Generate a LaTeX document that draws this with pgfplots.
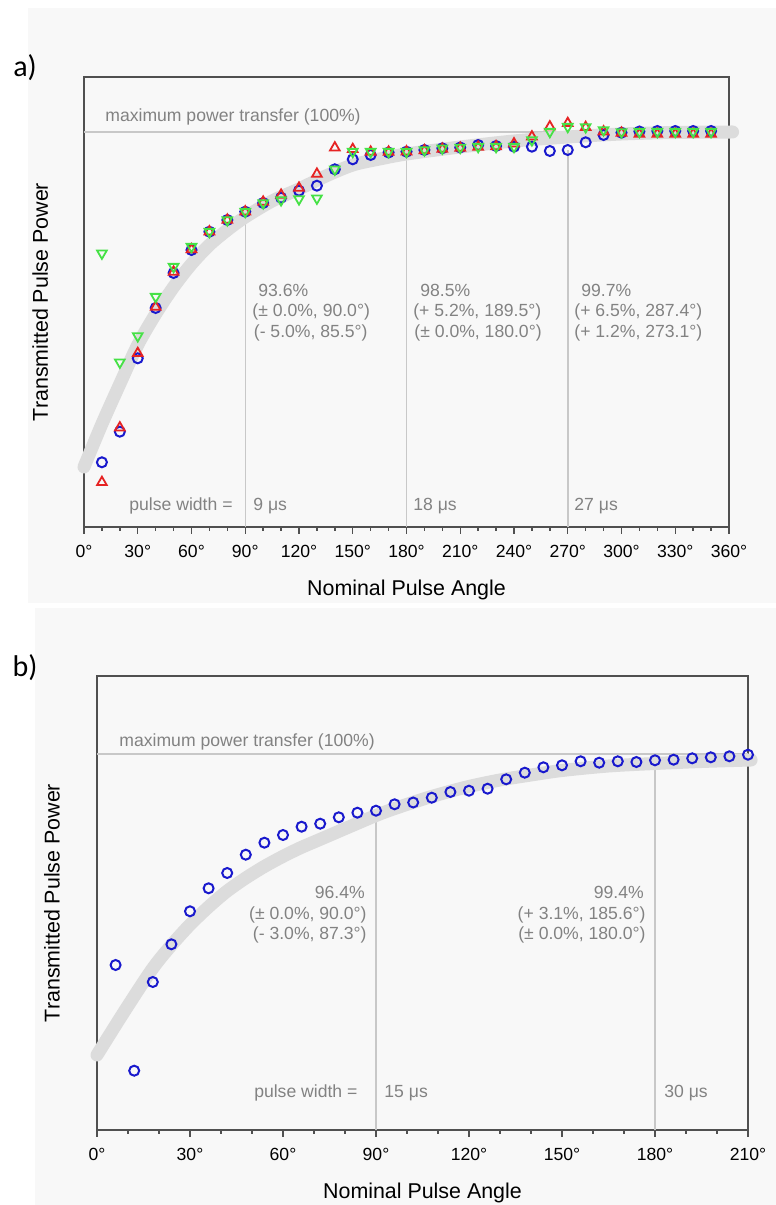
\documentclass[border=0pt]{standalone}
\usepackage{pgfplots}
\pgfplotsset{compat=1.18}
\usepackage{fontspec}
\setmainfont{Liberation Sans}
\newfontfamily\calibri{Carlito}
\definecolor{bgc}{RGB}{248,248,248}
\definecolor{framec}{RGB}{80,80,80}
\definecolor{bandc}{RGB}{220,220,220}
\definecolor{refc}{RGB}{200,200,200}
\definecolor{annc}{RGB}{130,130,130}
\definecolor{blu}{RGB}{25,25,205}
\definecolor{rd}{RGB}{230,35,35}
\definecolor{grn}{RGB}{70,225,70}
\tikzset{ann/.style={font=\fontsize{8.8}{10}\selectfont, text=annc, inner sep=0pt}}
\pgfplotsset{
  panel/.style={
    scale only axis, clip=false,
    axis line style={framec, line width=1pt},
    ymin=0, ytick=\empty,
    xtick pos=bottom, tick align=outside,
    major tick length=3.5pt, minor tick length=1.8pt,
    minor x tick num=2,
    every tick/.style={framec, line width=0.7pt},
    tick label style={font=\fontsize{8.8}{10}\selectfont, black},
    xticklabel style={yshift=-2pt},
    label style={font=\fontsize{10.7}{12}\selectfont},
    xlabel={Nominal Pulse Angle},
    ylabel={Transmitted Pulse Power},
  },
  band/.style={smooth, bandc, line width=6.5pt, line cap=round},
  refl/.style={refc, line width=0.75pt},
  bc/.style={only marks, mark=o, mark size=2.5pt, mark options={blu, line width=1pt}},
  rt/.style={only marks, mark=triangle, mark size=2.8pt, mark options={rd, line width=0.9pt}},
  gt/.style={only marks, mark=triangle, mark size=2.8pt, mark options={grn, line width=0.9pt, rotate=180}},
}
\begin{document}
\begin{tikzpicture}
\path[use as bounding box] (0,0) rectangle (388pt,602.5pt);
\fill[white] (0,0) rectangle (388pt,602.5pt);
\fill[bgc] (14pt,301pt) rectangle (388pt,598.5pt);
\fill[bgc] (17.5pt,0pt) rectangle (388pt,298.5pt);
\node[font=\calibri\fontsize{15}{17}\selectfont] at (12.5pt,568.5pt) {a)};
\node[font=\calibri\fontsize{15}{17}\selectfont] at (12.5pt,268.5pt) {b)};

% ---------------- panel a ----------------
\begin{axis}[panel,
  at={(42pt,339pt)}, anchor=south west,
  width=322.5pt, height=225pt,
  xmin=0, xmax=360, ymax=450,
  xtick={0,30,...,360},
  xticklabels={0°,30°,60°,90°,120°,150°,180°,210°,240°,270°,300°,330°,360°},
  xlabel style={at={(axis description cs:0.5,-0.14)}, anchor=center},
  ylabel style={at={(axis description cs:-0.068,0.5)}, anchor=center},
]
\addplot[refl] coordinates {(0,395) (360,395)};
\addplot[refl] coordinates {(90,0) (90,315)};
\addplot[refl] coordinates {(180,0) (180,375)};
\addplot[refl] coordinates {(270,0) (270,377)};
\addplot[band] coordinates {(0,60)(10,103)(20,143)(30,182)(40,213)(50,240)(60,263)(70,282)(80,297)(90,310)(105,326)(120,338)(135,351)(150,362)(165,368)(180,373)(210,380)(240,386)(270,390)(300,393)(330,394.5)(362,395)};
\addplot[bc] coordinates {(10,64.7)(20,95.3)(30,168.7)(40,219)(50,254)(60,277)(70,295.3)(80,307)(90,315.3)(100,324)(110,329.3)(120,336.3)(130,341.3)(140,357.7)(150,367.7)(160,372)(170,374.5)(180,375.3)(190,377)(200,378.7)(210,379.5)(220,382)(230,381)(240,380.3)(250,380.3)(260,376)(270,377)(280,384.7)(290,392)(300,394.3)(310,395.5)(320,396)(330,396)(340,396)(350,396)};
\addplot[rt] coordinates {(10,44.7)(20,99.3)(30,173.7)(40,220)(50,255)(60,277.5)(70,295.3)(80,307)(90,315.3)(100,325)(110,332)(120,339)(130,353)(140,379.3)(150,377.7)(160,375)(170,375)(180,375.3)(190,376.5)(200,378)(210,379)(220,380)(230,380.5)(240,383.3)(250,390.3)(260,400.3)(270,403.7)(280,399.7)(290,395.3)(300,394)(310,393)(320,393)(330,393)(340,393)(350,393)};
\addplot[gt] coordinates {(10,273.7)(20,164.7)(30,191)(40,230.3)(50,260.3)(60,280.3)(70,295.3)(80,307)(90,315.3)(100,324)(110,327)(120,328)(130,328.7)(140,357.7)(150,375.3)(160,375.3)(170,375.3)(180,375.3)(190,377)(200,378.7)(210,379.5)(220,380.3)(230,380.3)(240,380.3)(250,387)(260,395.3)(270,400.3)(280,400)(290,397)(300,395)(310,395.3)(320,395.3)(330,395.3)(340,395.3)(350,395.3)};
\node[ann, anchor=west] at (axis cs:11.7,410) {maximum power transfer (100\%)};
\node[ann, anchor=west] at (axis cs:97.1,237) {93.6\%};
\node[ann, anchor=west] at (axis cs:93.8,215) {(± 0.0\%, 90.0°)};
\node[ann, anchor=west] at (axis cs:94.6,194) {(- 5.0\%, 85.5°)};
\node[ann, anchor=west] at (axis cs:187.5,237) {98.5\%};
\node[ann, anchor=west] at (axis cs:183.6,215) {(+ 5.2\%, 189.5°)};
\node[ann, anchor=west] at (axis cs:184.2,194) {(± 0.0\%, 180.0°)};
\node[ann, anchor=west] at (axis cs:277.4,237) {99.7\%};
\node[ann, anchor=west] at (axis cs:273.5,215) {(+ 6.5\%, 287.4°)};
\node[ann, anchor=west] at (axis cs:273.5,194) {(+ 1.2\%, 273.1°)};
\node[ann, anchor=west] at (axis cs:25.1,21) {pulse width =};
\node[ann, anchor=west] at (axis cs:94.3,21) {9 μs};
\node[ann, anchor=west] at (axis cs:183.6,21) {18 μs};
\node[ann, anchor=west] at (axis cs:273.5,21) {27 μs};
\end{axis}

% ---------------- panel b ----------------
\begin{axis}[panel,
  at={(48.5pt,37.5pt)}, anchor=south west,
  width=325.5pt, height=227pt,
  xmin=0, xmax=210, ymax=454,
  xtick={0,30,...,210},
  xticklabels={0°,30°,60°,90°,120°,150°,180°,210°},
  xlabel style={at={(axis description cs:0.5,-0.139)}, anchor=center},
  ylabel style={at={(axis description cs:-0.069,0.5)}, anchor=center},
]
\addplot[refl] coordinates {(0,376) (210,376)};
\addplot[refl] coordinates {(90,0) (90,319)};
\addplot[refl] coordinates {(180,0) (180,369.7)};
\addplot[band] coordinates {(0,75)(8.5,117)(17.6,160)(23.5,183)(29.6,204)(35.6,222)(41.6,238)(47.5,251)(53.7,263)(59.6,273)(65.5,282)(71.5,290)(77.5,298)(83.5,306)(89.6,314)(95.6,321)(107.4,333)(119.3,343)(130,350)(140,355)(150,359.5)(165,364)(180,366.5)(195,368.5)(211,370)};
\addplot[bc] coordinates {(6,165)(12,59.3)(18,148)(24,185.7)(30,218.7)(36,241.7)(42,257)(48,275.3)(54,287.3)(60,295)(66,303.3)(72,306.3)(78,312.7)(84,317.3)(90,319.3)(96,325.7)(102,327.5)(108,332.3)(114,338)(120,339.3)(126,341.3)(132,350.7)(138,357.3)(144,362.7)(150,364.7)(156,368.7)(162,367.3)(168,368.7)(174,368)(180,369.7)(186,370.3)(192,371.7)(198,372.7)(204,373.7)(210,375.3)};
\node[ann, anchor=west] at (axis cs:7.1,388) {maximum power transfer (100\%)};
\node[ann, anchor=east] at (axis cs:86.5,238) {96.4\%};
\node[ann, anchor=east] at (axis cs:87.1,215) {(± 0.0\%, 90.0°)};
\node[ann, anchor=east] at (axis cs:87.1,195) {(- 3.0\%, 87.3°)};
\node[ann, anchor=east] at (axis cs:176.5,238) {99.4\%};
\node[ann, anchor=east] at (axis cs:177.1,215) {(+ 3.1\%, 185.6°)};
\node[ann, anchor=east] at (axis cs:177.1,195) {(± 0.0\%, 180.0°)};
\node[ann, anchor=west] at (axis cs:50.6,37) {pulse width =};
\node[ann, anchor=west] at (axis cs:92.6,37) {15 μs};
\node[ann, anchor=west] at (axis cs:182.9,37) {30 μs};
\end{axis}
\end{tikzpicture}
\end{document}
